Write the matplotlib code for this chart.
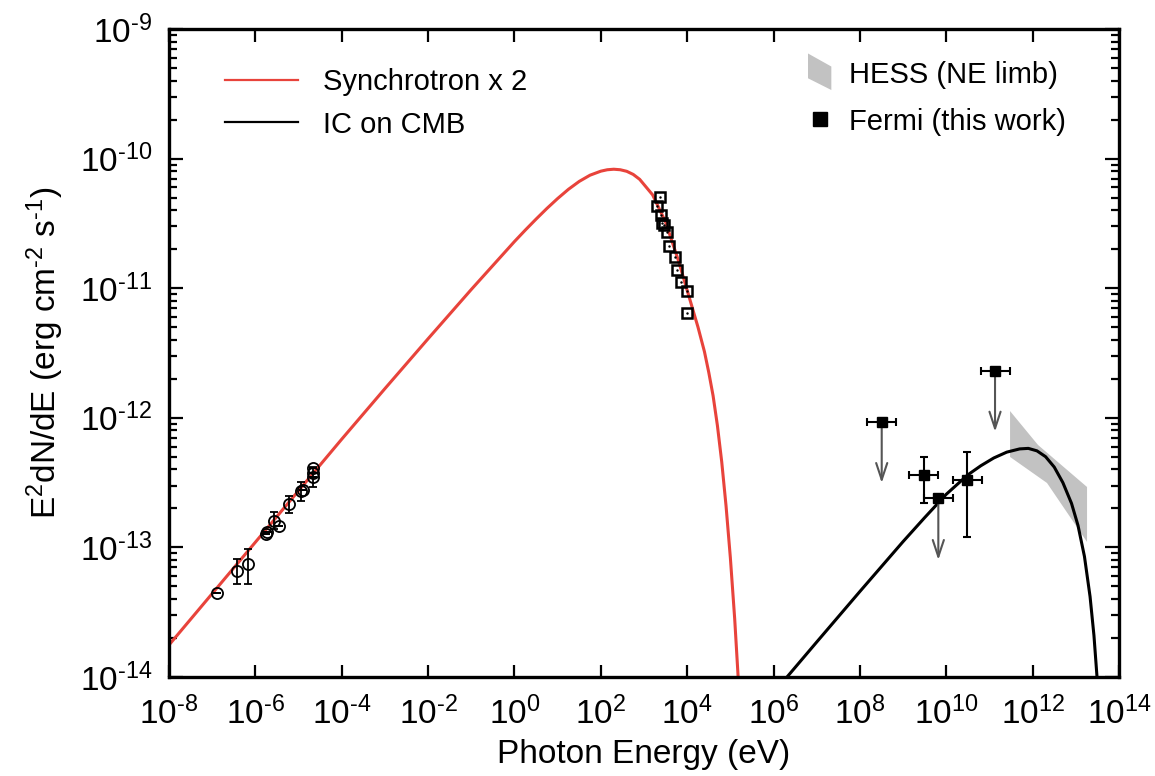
import numpy as np
import matplotlib
matplotlib.use("Agg")
import matplotlib.pyplot as plt
from matplotlib.ticker import NullLocator, FuncFormatter, FixedLocator, NullFormatter
from matplotlib.lines import Line2D
from matplotlib.patches import Patch, Polygon
from matplotlib.legend_handler import HandlerPatch

plt.rcParams['font.family'] = ['Liberation Sans', 'DejaVu Sans']
plt.rcParams['mathtext.fontset'] = 'custom'
plt.rcParams['mathtext.rm'] = 'Liberation Sans'
plt.rcParams['mathtext.it'] = 'Liberation Sans:italic'
plt.rcParams['mathtext.bf'] = 'Liberation Sans:bold'

# ---------------- data (log10 values) ----------------
# Synchrotron x 2 model curve
sync_logE = [-8.0, -6.0, -4.0, -3.0, -2.0, -1.0, 0.0, 0.25, 0.5, 0.75, 1.0, 1.25, 1.5, 1.75,
             2.0, 2.15, 2.3, 2.45, 2.6, 2.75, 2.9, 3.2, 3.5, 3.8, 4.1, 4.25, 4.4, 4.5, 4.6,
             4.7, 4.8, 4.9, 5.0, 5.1, 5.18]
sync_logF = [-13.753, -12.96, -12.165, -11.775, -11.39, -11.01, -10.64, -10.552, -10.467,
             -10.385, -10.308, -10.237, -10.176, -10.128, -10.097, -10.086, -10.082, -10.086,
             -10.098, -10.122, -10.16, -10.28, -10.49, -10.79, -11.13, -11.30, -11.49, -11.65,
             -11.83, -12.06, -12.34, -12.68, -13.08, -13.55, -14.0]

# IC on CMB model curve
ic_logE = [6.312, 7.0, 8.0, 9.0, 9.5, 10.0, 10.5, 10.8, 11.1, 11.4, 11.7, 11.9, 12.1, 12.3,
           12.5, 12.7, 12.9, 13.05, 13.2, 13.33, 13.42, 13.491]
ic_logF = [-14.0, -13.73, -13.34, -12.955, -12.77, -12.59, -12.44, -12.37, -12.31, -12.265,
           -12.24, -12.236, -12.255, -12.30, -12.38, -12.50, -12.66, -12.83, -13.07, -13.38,
           -13.68, -14.0]

# radio points (open circles)
radio_logE = [-6.895, -6.432, -6.163, -5.754, -5.737, -5.561, -5.446, -5.214, -4.950,
              -4.904, -4.672, -4.672, -4.658]
radio_logF = [-13.350, -13.182, -13.130, -12.899, -12.879, -12.796, -12.833, -12.667, -12.562,
              -12.557, -12.390, -12.428, -12.454]
radio_logF_lo = [-13.350, -13.285, -13.285, -12.899, -12.879, -12.860, -12.833, -12.737, -12.642,
                 -12.557, -12.390, -12.532, -12.454]
radio_logF_hi = [-13.350, -13.092, -13.015, -12.899, -12.879, -12.725, -12.833, -12.603, -12.493,
                 -12.557, -12.390, -12.377, -12.454]

# X-ray points (open squares)
xray_logE = [3.371, 3.309, 3.387, 3.424, 3.471, 3.526, 3.586, 3.718, 3.758, 3.850, 3.989, 3.989]
xray_logF = [-10.299, -10.363, -10.435, -10.495, -10.512, -10.568, -10.674, -10.757, -10.859,
             -10.954, -11.019, -11.193]

# Fermi points
fermi_logE = [8.505, 9.476, 9.816, 10.474, 11.129]
fermi_logE_lo = [8.158, 9.145, 9.485, 10.149, 10.805]
fermi_logE_hi = [8.837, 9.808, 10.164, 10.821, 11.477]
fermi_logF = [-12.035, -12.441, -12.617, -12.480, -11.637]
fermi_logF_lo = [-12.035, -12.655, -12.617, -12.922, -11.637]
fermi_logF_hi = [-12.035, -12.300, -12.617, -12.266, -11.637]
fermi_is_ul = [True, False, True, False, True]
fermi_ul_tip = [-12.503, None, -13.097, None, -12.107]

# HESS band (NE limb)
hess_top_logE = [11.477, 12.125, 13.260]
hess_top_logF = [-11.948, -12.210, -12.534]
hess_bot_logE = [13.260, 12.333, 11.477]
hess_bot_logF = [-12.958, -12.503, -12.302]

xticks_exp = list(range(-8, 15, 2))
yticks_exp = list(range(-14, -8))

# ---------------- figure ----------------
fig = plt.figure(figsize=(11.55, 7.76), dpi=100)
ax = fig.add_axes([169/1155, (776-677)/776, 950/1155, 648/776])
ax.set_xscale('log')
ax.set_yscale('log')
ax.set_xlim(1e-8, 1e14)
ax.set_ylim(1e-14, 1e-9)

p = lambda a: np.power(10.0, np.array(a, dtype=float))

red = '#e8433b'
gray = '#c2c2c2'
# HESS band
bx = np.concatenate([p(hess_top_logE), p(hess_bot_logE)])
by = np.concatenate([p(hess_top_logF), p(hess_bot_logF)])
ax.fill(bx, by, color=gray, lw=0, zorder=1)

ax.plot(p(sync_logE), p(sync_logF), color=red, lw=2.2, zorder=2, solid_joinstyle='round')
ax.plot(p(ic_logE), p(ic_logF), color='black', lw=2.2, zorder=2, solid_joinstyle='round')

# radio
rE = p(radio_logE); rF = p(radio_logF)
ax.errorbar(rE, rF, yerr=[rF - p(radio_logF_lo), p(radio_logF_hi) - rF], fmt='o', ms=8,
            mfc='none', mec='black', mew=1.3, ecolor='black', elinewidth=1.3, capsize=3,
            capthick=1.3, zorder=3)
# X-ray
ax.plot(p(xray_logE), p(xray_logF), 's', ms=7.5, mfc='none', mec='black', mew=1.8, zorder=3)
ax.plot(p(xray_logE), p(xray_logF), '.', ms=1.5, color='black', zorder=3)

# Fermi
fE = p(fermi_logE); fF = p(fermi_logF)
xerr = [fE - p(fermi_logE_lo), p(fermi_logE_hi) - fE]
yerr = [fF - p(fermi_logF_lo), p(fermi_logF_hi) - fF]
ax.errorbar(fE, fF, xerr=xerr, yerr=yerr, fmt='s', ms=7, color='black', ecolor='black',
            elinewidth=1.5, capsize=3, capthick=1.5, zorder=4)
for e, f, ul, tip in zip(fermi_logE, fermi_logF, fermi_is_ul, fermi_ul_tip):
    if ul:
        ax.annotate('', xy=(10**e, 10**tip), xytext=(10**e, 10**f),
                    arrowprops=dict(arrowstyle='->,head_length=1.2,head_width=0.4',
                                    color='#555555', lw=1.5, shrinkA=0, shrinkB=0), zorder=3)


def fmt_pow(v, pos):
    e = int(round(np.log10(v)))
    if e < 0:
        return r'$\mathdefault{10^{\text{-}%d}}$' % (-e)
    return r'$\mathdefault{10^{%d}}$' % e


# ticks
ax.xaxis.set_major_locator(FixedLocator([10.0**k for k in xticks_exp]))
ax.xaxis.set_major_formatter(FuncFormatter(fmt_pow))
ax.xaxis.set_minor_locator(NullLocator())
ax.yaxis.set_major_locator(FixedLocator([10.0**k for k in yticks_exp]))
ax.yaxis.set_minor_locator(FixedLocator([m * 10.0**k for k in yticks_exp[:-1] for m in range(2, 10)]))
ax.yaxis.set_major_formatter(FuncFormatter(fmt_pow))
ax.yaxis.set_minor_formatter(NullFormatter())
ax.tick_params(which='both', direction='in', top=True, right=True, width=1.6, color='black')
ax.tick_params(axis='x', which='major', length=9, pad=14, labelsize=24)
ax.tick_params(axis='y', which='major', length=10, pad=12, labelsize=24)
ax.tick_params(axis='y', which='minor', length=6)
for s in ax.spines.values():
    s.set_linewidth(2.4)

fig.text(644/1155, 1 - 755/776, 'Photon Energy (eV)', ha='center', va='center', fontsize=24)
fig.text(45/1155, 1 - 353/776, r'E$^2$dN/dE (erg cm$^{\text{-}2}$ s$^{\text{-}1}$)', ha='center',
         va='center', rotation=90, fontsize=24)


# legends
def skew_patch(legend, orig_handle, xdescent, ydescent, width, height, fontsize):
    x0, y0 = -xdescent, -ydescent
    pts = [(x0, y0 + 1.25 * height), (x0 + width, y0 + 0.75 * height),
           (x0 + width, y0 - 0.15 * height), (x0, y0 + 0.3 * height)]
    return Polygon(pts, closed=True)


h1 = [Line2D([], [], color=red, lw=1.6), Line2D([], [], color='black', lw=1.6)]
leg1 = ax.legend(h1, ['Synchrotron x 2', 'IC on CMB'], loc='upper left',
                 bbox_to_anchor=((225-169)/950, (677-68)/648), frameon=False, fontsize=21,
                 handlelength=2.5, handletextpad=0.85, labelspacing=0.5, borderpad=0,
                 borderaxespad=0)
ax.add_artist(leg1)
hess_handle = Patch(facecolor=gray, edgecolor='none')
h2 = [hess_handle, Line2D([], [], marker='s', ls='none', color='black', ms=10)]
leg2 = ax.legend(h2, ['HESS (NE limb)', 'Fermi (this work)'], loc='upper left',
                 bbox_to_anchor=((808-169)/950, (677-60)/648), frameon=False, fontsize=21,
                 handlelength=0.8, handleheight=1.0, handletextpad=0.6, labelspacing=0.62,
                 borderpad=0, borderaxespad=0,
                 handler_map={hess_handle: HandlerPatch(patch_func=skew_patch)})

fig.savefig('out.png', dpi=100)
